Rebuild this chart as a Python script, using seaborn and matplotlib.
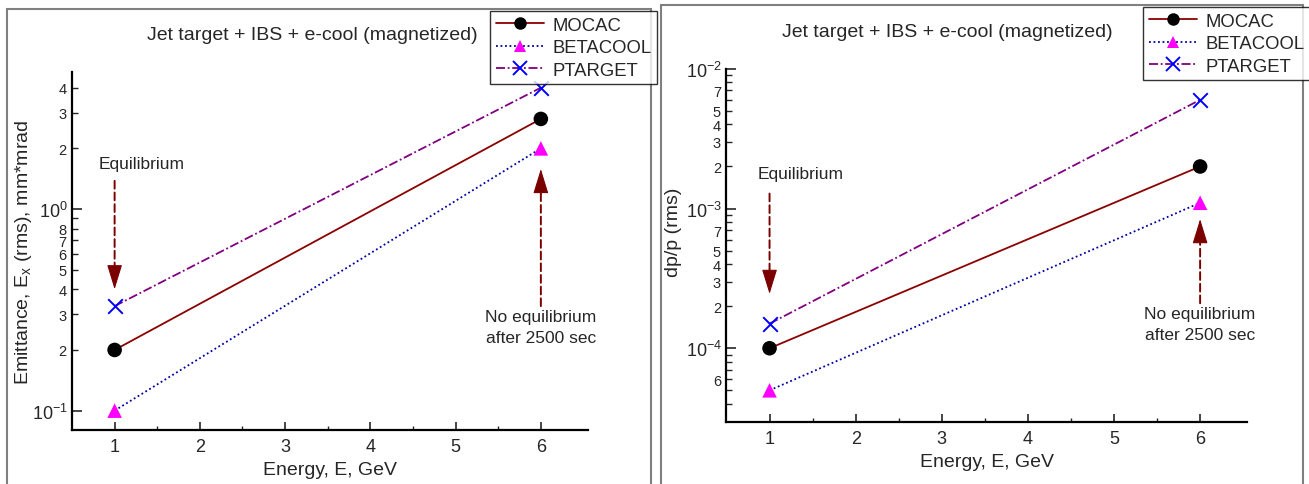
import numpy as np
import pandas as pd
import matplotlib
matplotlib.use("Agg")
import matplotlib.pyplot as plt
import seaborn as sns
from matplotlib.lines import Line2D
from matplotlib.patches import Rectangle

# ---------------- data ----------------
energy = [1, 6]
series = ["MOCAC", "BETACOOL", "PTARGET"]
emit_mocac = [0.2, 2.8]
emit_betacool = [0.1, 2.0]
emit_ptarget = [0.33, 4.0]
dpp_mocac = [1.0e-4, 2.0e-3]
dpp_betacool = [5.0e-5, 1.1e-3]
dpp_ptarget = [1.5e-4, 6.0e-3]
title_text = "Jet target + IBS + e-cool (magnetized)"
x_ticks = [1, 2, 3, 4, 5, 6]

sns.set_theme(style="white")
plt.rcParams['font.family'] = ['Liberation Sans', 'DejaVu Sans']
plt.rcParams['mathtext.fontset'] = 'custom'
plt.rcParams['mathtext.rm'] = 'Liberation Sans'
plt.rcParams['mathtext.it'] = 'Liberation Sans:italic'

line_col = {"MOCAC": "#8B0000", "BETACOOL": "#0000A0", "PTARGET": "#800080"}
mark_col = {"MOCAC": "black", "BETACOOL": "#FF00FF", "PTARGET": "#0000FF"}
mark = {"MOCAC": "o", "BETACOOL": "^", "PTARGET": "x"}
ls = {"MOCAC": "-", "BETACOOL": (0, (1, 1.5)), "PTARGET": (0, (5, 1.5, 1, 1.5))}

fig = plt.figure(figsize=(13.09, 4.85), dpi=100)
axL = fig.add_axes([0.055, 0.111, 0.394, 0.739])
axR = fig.add_axes([0.555, 0.128, 0.398, 0.728])

# panel frames
fig.patches.append(Rectangle((7/1309, -0.01), (651-7)/1309, 1 - 10/485 + 0.01,
                             transform=fig.transFigure, fill=False, ec="#808080", lw=1.5))
fig.patches.append(Rectangle((661/1309, -0.01), (1303-661)/1309, 1 - 6/485 + 0.01,
                             transform=fig.transFigure, fill=False, ec="#808080", lw=1.5))


def draw(ax, vals):
    for name, v in zip(series, vals):
        df = pd.DataFrame({"E": energy, "v": v})
        sns.lineplot(data=df, x="E", y="v", ax=ax, color=line_col[name],
                     linestyle=ls[name], lw=1.3, legend=False)
        if mark[name] == "x":
            sns.scatterplot(data=df, x="E", y="v", ax=ax, marker="x", color=mark_col[name],
                            s=110, linewidth=1.4, legend=False, zorder=5)
        else:
            sns.scatterplot(data=df, x="E", y="v", ax=ax, marker=mark[name], color=mark_col[name],
                            s=110, edgecolor="none", legend=False, zorder=5)
    ax.set_yscale("log")
    ax.set_xlim(0.5, 6.55)
    ax.set_xticks(x_ticks)
    ax.set_xticks([1.5, 2.5, 3.5, 4.5, 5.5], minor=True)
    ax.tick_params(axis="x", which="major", direction="in", length=6, width=1.2, labelsize=13, pad=6, bottom=True)
    ax.tick_params(axis="x", which="minor", direction="in", length=3, width=1, bottom=True)
    ax.tick_params(axis="y", which="major", direction="in", length=7, width=1.2, labelsize=13, left=True, pad=3)
    ax.tick_params(axis="y", which="minor", direction="in", length=4, width=1, labelsize=10.5, left=True, pad=4)
    for s in ["top", "right"]:
        ax.spines[s].set_visible(False)
    for s in ["left", "bottom"]:
        ax.spines[s].set_color("black")
        ax.spines[s].set_linewidth(1.6)
    ax.set_xlabel("Energy, E, GeV", fontsize=14, labelpad=4)
    ax.set_facecolor("white")


def arrows(ax, eq_text_xy, eq_from, eq_to, no_from, no_to, no_text_xy):
    c = "#7A0000"
    ax.text(*eq_text_xy, "Equilibrium", ha="center", va="center", fontsize=12.5)
    ax.text(*no_text_xy, "No equilibrium\nafter 2500 sec", ha="center", va="top",
            fontsize=12.5, linespacing=1.5)
    for a, b, sgn in [(eq_from, eq_to, 1), (no_from, no_to, -1)]:
        # dashed shaft
        ax.annotate("", xy=b, xytext=a,
                    arrowprops=dict(arrowstyle="-", color=c, lw=1.4,
                                    linestyle=(0, (4, 2)), shrinkA=0, shrinkB=8))
        # solid filled head
        ax.annotate("", xy=b, xytext=(0, sgn * 18), textcoords="offset points",
                    arrowprops=dict(arrowstyle="-|>,head_length=1.3,head_width=0.4",
                                    color=c, lw=0.8, shrinkA=0, shrinkB=0))


# ---- left
draw(axL, [emit_mocac, emit_betacool, emit_ptarget])
axL.set_ylim(0.08, 4.8)
axL.set_yticks([0.1, 1.0])
axL.set_yticklabels([r"$10^{-1}$", r"$10^{0}$"])
minL = [0.2, 0.3, 0.4, 0.5, 0.6, 0.7, 0.8, 0.9, 2, 3, 4]
axL.set_yticks(minL, minor=True)
axL.set_yticklabels(["2", "3", "4", "5", "6", "7", "8", "", "2", "3", "4"], minor=True)
axL.set_ylabel(r"Emittance, E$_{\mathrm{x}}$ (rms), mm*mrad", fontsize=14)
axL.yaxis.set_label_coords(-0.074, 0.5)
axL.text(0.465, 1.105, title_text, transform=axL.transAxes, ha="center", va="center", fontsize=14)
arrows(axL, (1.32, 1.68), (1.0, 1.38), (1.0, 0.40), (6.0, 0.33), (6.0, 1.58), (6.0, 0.32))

# ---- right
draw(axR, [dpp_mocac, dpp_betacool, dpp_ptarget])
axR.set_ylim(2.97e-5, 1.0e-2)
axR.set_yticks([1e-4, 1e-3, 1e-2])
axR.set_yticklabels([r"$10^{-4}$", r"$10^{-3}$", r"$10^{-2}$"])
minR, labR = [], []
for m in range(4, 10):
    minR.append(m * 1e-5); labR.append("6" if m == 6 else "")
for dec in [1e-4, 1e-3]:
    for m in range(2, 10):
        minR.append(m * dec); labR.append(str(m) if m in (2, 3, 4, 5, 7) else "")
axR.set_yticks(minR, minor=True)
axR.set_yticklabels(labR, minor=True)
axR.set_ylabel("dp/p (rms)", fontsize=14)
axR.yaxis.set_label_coords(-0.086, 0.54)
axR.text(0.423, 1.105, title_text, transform=axR.transAxes, ha="center", va="center", fontsize=14)
arrows(axR, (1.36, 1.78e-3), (1.0, 1.28e-3), (1.0, 2.45e-4), (6.0, 2.1e-4), (6.0, 8.4e-4), (6.0, 2.0e-4))

# ---- legends
handles = [Line2D([0], [0], color=line_col[n], linestyle=ls[n], lw=1.3, marker=mark[n],
                  markerfacecolor=mark_col[n], markeredgecolor=mark_col[n],
                  markersize=9 if n != "PTARGET" else 10, markeredgewidth=1.4 if n == "PTARGET" else 0)
           for n in series]
for bbox in [(490/1309, 1 - 12/485), (1143/1309, 1 - 8/485)]:
    lg = fig.legend(handles, series, loc="upper left", bbox_to_anchor=bbox,
                    bbox_transform=fig.transFigure, frameon=True, fancybox=False,
                    edgecolor="black", fontsize=13.3, handlelength=2.6, borderpad=0.3,
                    labelspacing=0.3, handletextpad=0.5, borderaxespad=0)
    lg.get_frame().set_linewidth(1.0)

fig.savefig("out.png", dpi=100, facecolor="white")
